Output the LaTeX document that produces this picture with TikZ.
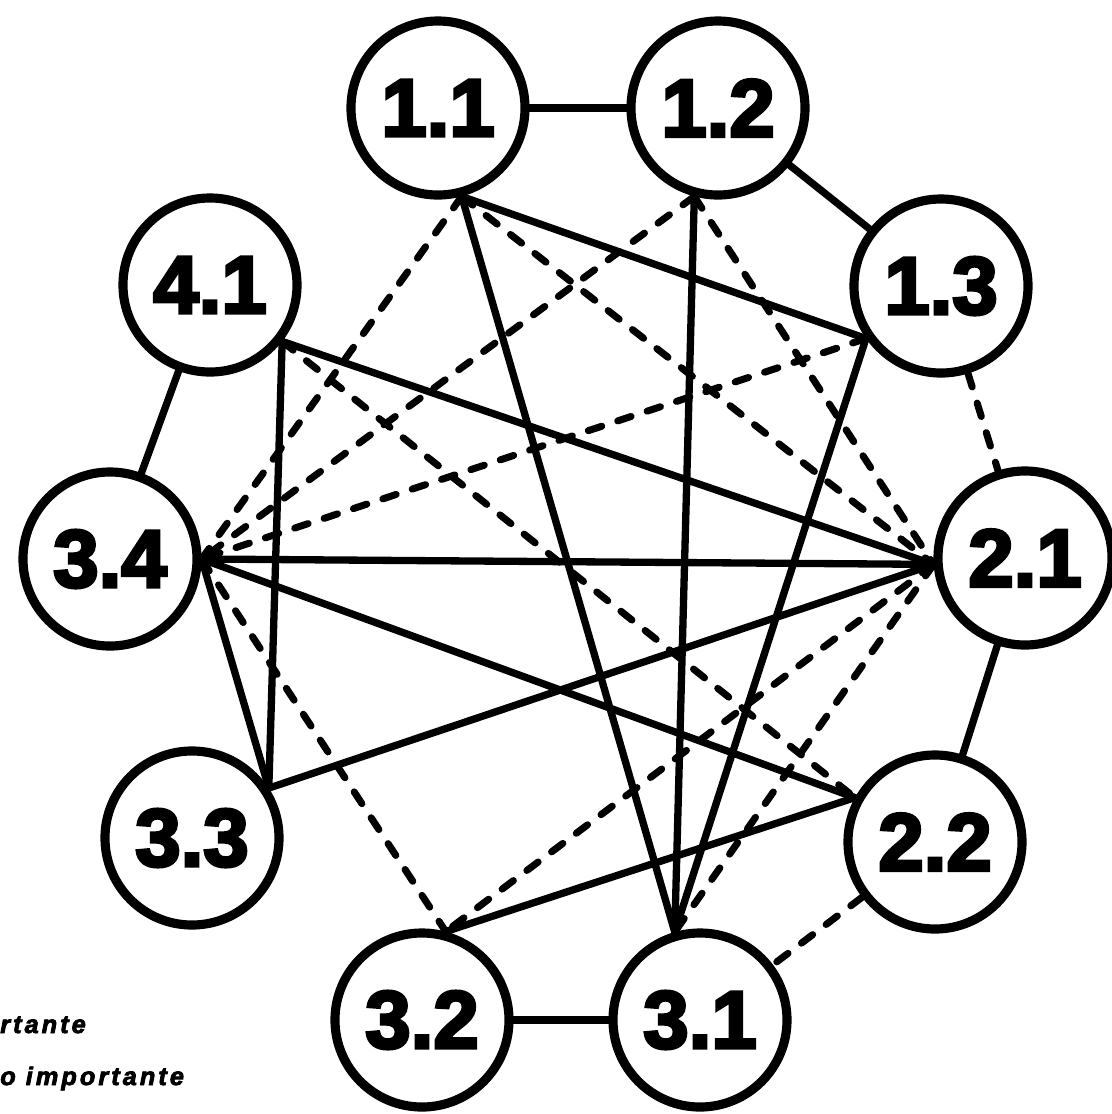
\documentclass[tikz,border=0pt]{standalone}
\usepackage{fontspec}
\newfontfamily\heavy[BoldFont={Liberation Sans Bold},BoldFeatures={FakeBold=4}]{Liberation Sans}
\newfontfamily\legendf[LetterSpace=12,BoldItalicFeatures={FakeBold=3}]{Liberation Sans}
\begin{document}
\begin{tikzpicture}[x=0.025cm,y=-0.025cm,
  circ/.style={circle,draw,line width=6.5pt,minimum size=4.35cm,inner sep=0pt,
    font=\heavy\bfseries\fontsize{58}{62}\selectfont},
  solidedge/.style={line width=5.2pt,line cap=round},
  dashedge/.style={line width=5pt,dash pattern=on 10pt off 12pt,line cap=round},
  legendtext/.style={anchor=base west,inner sep=0pt,font=\legendf\bfseries\itshape\fontsize{18}{20}\selectfont}]
\useasboundingbox (0,0) rectangle (1112,1114);
% nodes
\node[circ] (n11) at (438,108) {1.1};
\node[circ] (n12) at (718,108) {1.2};
\node[circ] (n13) at (941,286) {1.3};
\node[circ] (n41) at (210,285) {4.1};
\node[circ] (n34) at (110,559) {3.4};
\node[circ] (n21) at (1025,558) {2.1};
\node[circ] (n33) at (192,838) {3.3};
\node[circ] (n22) at (935,842) {2.2};
\node[circ] (n32) at (422,1020) {3.2};
\node[circ] (n31) at (700,1020) {3.1};
% legend (cut off at left margin)
\node[legendtext] (l1) at (0,1033) {rtante};
\node[legendtext] (l2) at (0,1085) {o importante};
% solid connections
\draw[solidedge] (n11) -- (n12);
\draw[solidedge] (n12) -- (n13);
\draw[solidedge] (n41) -- (n34);
\draw[solidedge] (n21) -- (n22);
\draw[solidedge] (n32) -- (n31);
\draw[solidedge] (n11.-75) -- (n13.-145);
\draw[solidedge] (n11.-75) -- (n31.106);
\draw[solidedge] (n12.-105) -- (n31.106);
\draw[solidedge] (n13.-145) -- (n31.106);
\draw[solidedge] (n41.-38) -- (n21.184);
\draw[solidedge] (n41.-38) -- (n33.33);
\draw[solidedge] (n34.0) -- (n21.184);
\draw[solidedge] (n34.0) -- (n22.151);
\draw[solidedge] (n34.0) -- (n33.33);
\draw[solidedge] (n33.33) -- (n21.184);
\draw[solidedge] (n32.75) -- (n22.151);
% dashed connections
\draw[dashedge] (n11.-75) -- (n34.0);
\draw[dashedge] (n11.-75) -- (n21.184);
\draw[dashedge] (n12.-105) -- (n34.0);
\draw[dashedge] (n12.-105) -- (n21.184);
\draw[dashedge] (n13.-145) -- (n34.0);
\draw[dashedge] (n13) -- (n21);
\draw[dashedge] (n41.-38) -- (n22.151);
\draw[dashedge] (n34.0) -- (n32.75);
\draw[dashedge] (n21.184) -- (n32.75);
\draw[dashedge] (n21.184) -- (n31.106);
\draw[dashedge] (n22) -- (n31);
\end{tikzpicture}
\end{document}
